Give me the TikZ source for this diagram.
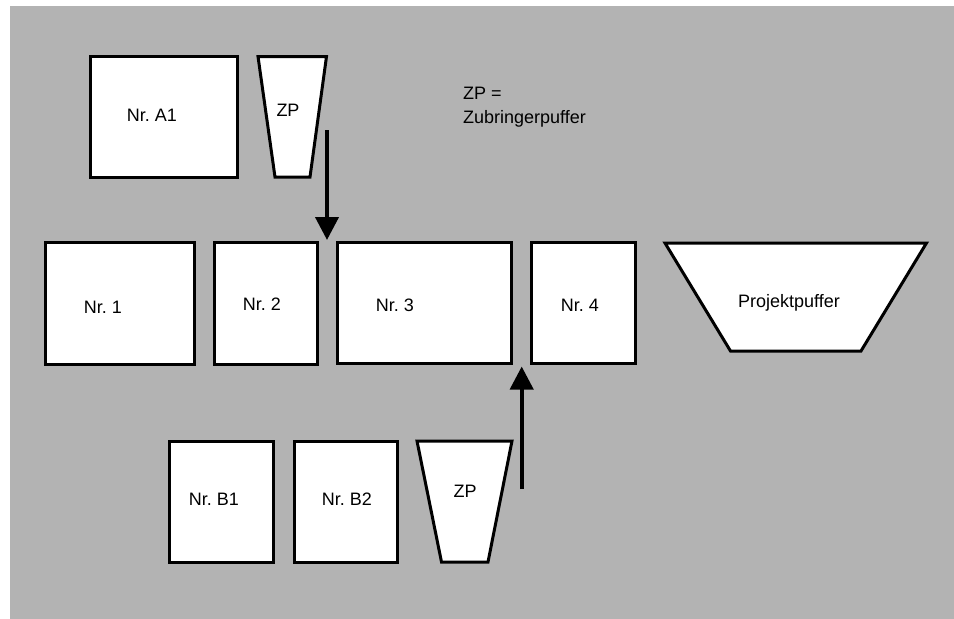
\documentclass[tikz,border=0pt]{standalone}
\usepackage{fontspec}
\setmainfont{Liberation Sans}
\usetikzlibrary{arrows.meta}
\definecolor{bggray}{RGB}{179,179,179}
\frenchspacing
\tikzset{
  box/.style={draw=black, line width=3pt, fill=white, inner sep=0pt, outer sep=0pt},
  trap/.style={draw=black, line width=3pt, fill=white, line join=miter},
  lbl/.style={font=\fontsize{18}{23}\selectfont, inner sep=0pt, anchor=base},
  flow/.style={line width=4pt, -{Triangle[width=23pt,length=23pt]}}
}
\begin{document}
\begin{tikzpicture}[x=1pt,y=-1pt]
\useasboundingbox (0,0) rectangle (954,619);
\fill[white] (0,0) rectangle (954,619);
\fill[bggray] (10,6) rectangle (954,619);

% rectangles
\node[box, minimum width=147pt, minimum height=121pt] (a1) at (164,117) {};
\node[box, minimum width=149pt, minimum height=122pt] (n1) at (120,303.5) {};
\node[box, minimum width=103pt, minimum height=122pt] (n2) at (266,303.5) {};
\node[box, minimum width=174pt, minimum height=121pt] (n3) at (424.5,303) {};
\node[box, minimum width=104pt, minimum height=121pt] (n4) at (583.5,303) {};
\node[box, minimum width=104pt, minimum height=121pt] (b1) at (221.5,502) {};
\node[box, minimum width=103pt, minimum height=121pt] (b2) at (346,502) {};

% trapezoids
\draw[trap] (258,56.5) -- (326.5,56.5) -- (310,177) -- (275,177) -- cycle;
\draw[trap] (417,441) -- (512,441) -- (488,562) -- (441.5,562) -- cycle;
\draw[trap] (665,243) -- (926.5,243) -- (861,351) -- (730.5,351) -- cycle;

% labels
\node[lbl] (ta1) at (152,121.5) {Nr. A1};
\node[lbl] (tzpa) at (288,116.5) {ZP};
\node[lbl] (tn1) at (103,313.5) {Nr. 1};
\node[lbl] (tn2) at (262,310.5) {Nr. 2};
\node[lbl] (tn3) at (395,311) {Nr. 3};
\node[lbl] (tn4) at (580,311.5) {Nr. 4};
\node[lbl] (tpp) at (789,307) {Projektpuffer};
\node[lbl] (tb1) at (214,505) {Nr. B1};
\node[lbl] (tb2) at (347,505) {Nr. B2};
\node[lbl] (tzpb) at (465,497.5) {ZP};
\node[lbl, anchor=base west] (leg1) at (463,99.5) {ZP =};
\node[lbl, anchor=base west] (leg2) at (463,123) {Zubringerpuffer};

% arrows
\coordinate (d0) at (327,130);
\coordinate (d1) at (327,240);
\coordinate (u0) at (521.7,489);
\coordinate (u1) at (521.7,366.5);
\draw[flow] (d0) -- (d1);
\draw[flow] (u0) -- (u1);
\end{tikzpicture}
\end{document}
